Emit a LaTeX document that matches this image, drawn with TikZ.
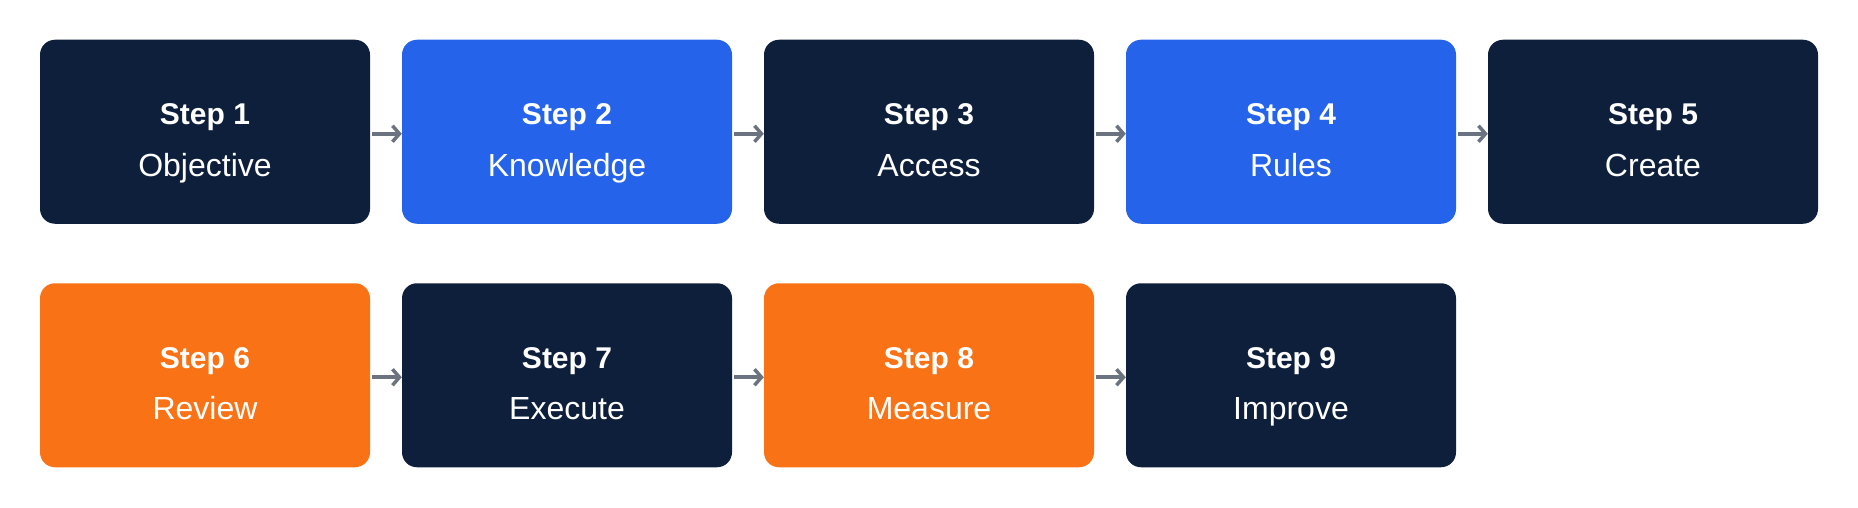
\documentclass[tikz,border=0pt]{standalone}
\usepackage{fontspec}
\setmainfont{Liberation Sans}
\usetikzlibrary{arrows.meta}
\definecolor{navy}{HTML}{0D1F3B}
\definecolor{bblue}{HTML}{2563EB}
\definecolor{borange}{HTML}{F97316}
\definecolor{agray}{HTML}{6B7280}
\tikzset{
  card/.style={rectangle, rounded corners=15pt, minimum width=330pt, minimum height=184pt, inner sep=0pt, draw=none},
  navycard/.style={card, fill=navy},
  bluecard/.style={card, fill=bblue},
  orangecard/.style={card, fill=borange},
  steptitle/.style={anchor=base, text=white, inner sep=0pt, font=\fontsize{30pt}{34pt}\selectfont\bfseries},
  steplabel/.style={anchor=base, text=white, inner sep=0pt, font=\fontsize{32pt}{36pt}\selectfont},
  flow/.style={draw=agray, line width=4pt, -{Straight Barb[length=7pt,width=16pt,line width=3.5pt]}, shorten <=2pt}
}
\begin{document}
\begin{tikzpicture}[x=1pt,y=-1pt]
\useasboundingbox (0,0) rectangle (1858,508);
% row 1
\node[navycard]   (b1) at (205,131.75) {};
\node[bluecard]   (b2) at (567,131.75) {};
\node[navycard]   (b3) at (929,131.75) {};
\node[bluecard]   (b4) at (1291,131.75) {};
\node[navycard]   (b5) at (1653,131.75) {};
% row 2
\node[orangecard] (b6) at (205,375.25) {};
\node[navycard]   (b7) at (567,375.25) {};
\node[orangecard] (b8) at (929,375.25) {};
\node[navycard]   (b9) at (1291,375.25) {};
% texts
\foreach \n/\t/\x/\y in {1/Objective/205/0, 2/Knowledge/567/0, 3/Access/929/0, 4/Rules/1291/0, 5/Create/1653/0,
  6/Review/205/243.5, 7/Execute/567/243.5, 8/Measure/929/243.5, 9/Improve/1291/243.5}{
  \node[steptitle] (t\n) at (\x,124.5+\y) {Step \n};
  \node[steplabel] (l\n) at (\x,176+\y) {\t};
}
% connectors
\foreach \a/\b in {1/2,2/3,3/4,4/5,6/7,7/8,8/9}{
  \draw[flow] ([yshift=-2pt]b\a.east) -- ([yshift=-2pt]b\b.west);
}
\end{tikzpicture}
\end{document}
